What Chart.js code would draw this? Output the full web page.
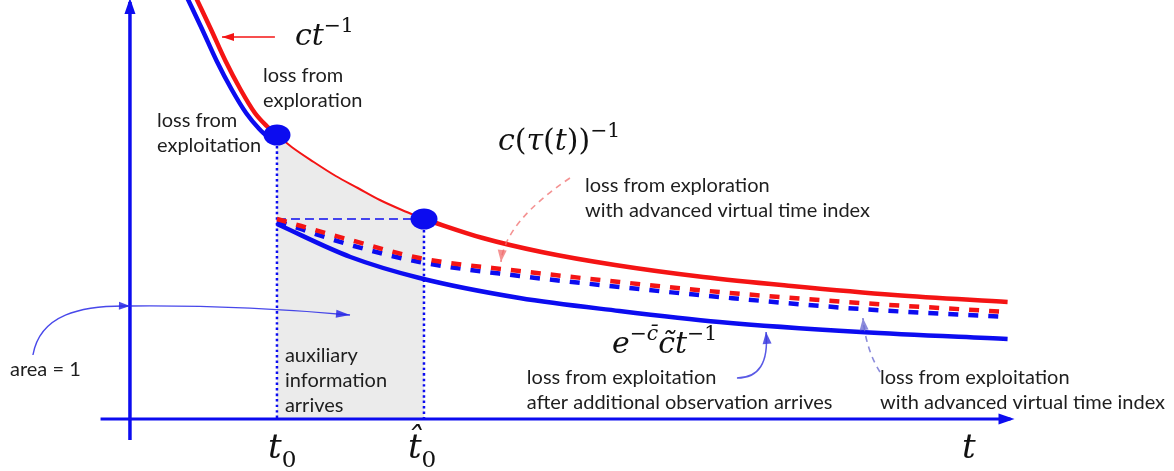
<!DOCTYPE html>
<html>
<head>
<meta charset="utf-8">
<script src="https://cdn.jsdelivr.net/npm/chart.js@4.4.1/dist/chart.umd.min.js"></script>
<style>
  body { margin: 0; background: #fff; }
  canvas { display: block; }
</style>
</head>
<body>
<canvas id="chart" width="1174" height="471"></canvas>
<script>
// time in units of t0 (t0 = 1, t0 hat = 2), loss in arbitrary units
const tExploreEarly = [0.45, 0.55, 0.65, 0.75, 0.85, 0.93, 1.0];
const lossExploreEarly = [4.21, 3.90, 3.58, 3.30, 3.06, 2.93, 2.84];
const tExploitEarly = [0.39, 0.49, 0.59, 0.69, 0.79, 0.88, 0.97];
const lossExploitEarly = [4.21, 3.90, 3.58, 3.30, 3.06, 2.90, 2.78];

const tExploreGap = [1.0, 1.1, 1.25, 1.4, 1.55, 1.7, 1.85, 2.0];
const lossExploreGap = [2.84, 2.72, 2.57, 2.43, 2.31, 2.19, 2.09, 2.0];

const tExploreLate = [2.0, 2.4, 2.8, 3.3, 3.9, 4.5, 5.2, 5.97];
const lossExploreLate = [2.0, 1.81, 1.67, 1.54, 1.42, 1.33, 1.24, 1.17];

const tAfter = [1.0, 1.5, 1.97, 2.65, 3.33, 4.01, 4.97, 5.97];
const lossExploitAfter = [1.95, 1.62, 1.41, 1.21, 1.08, 0.97, 0.87, 0.80];
const lossExploreVirtual = [2.0, 1.79, 1.61, 1.48, 1.37, 1.27, 1.16, 1.07];
const lossExploitVirtual = [1.98, 1.74, 1.57, 1.43, 1.32, 1.22, 1.10, 1.02];

const tMarks = [1, 2];
const lossMarks = [2.84, 2.0];
const tAxisX = [-0.2, 5.99];
const lossAxisY = [-0.21, 4.17];

const RED = "#f41414";
const BLUE = "#0c0cf0";

function pts(xs, ys) {
  return xs.map((x, i) => ({ x: x, y: ys[i] }));
}

function curve(data, color, width, dash, extra) {
  return Object.assign({
    data: data,
    showLine: true,
    borderColor: color,
    borderWidth: width,
    borderDash: dash || [],
    pointRadius: 0,
    cubicInterpolationMode: "monotone",
    fill: false
  }, extra || {});
}

// ellipse shaped marker for the two points
const dot = document.createElement("canvas");
dot.width = 28;
dot.height = 22;
const dctx = dot.getContext("2d");
dctx.fillStyle = BLUE;
dctx.beginPath();
dctx.ellipse(14, 11, 13.5, 10.5, 0, 0, Math.PI * 2);
dctx.fill();

const datasets = [
  {
    data: pts(tMarks, lossMarks),
    pointStyle: dot,
    pointRadius: 12,
    showLine: false
  },
  curve(pts(tExploreEarly, lossExploreEarly), RED, 4.5),
  curve(pts(tExploitEarly, lossExploitEarly), BLUE, 4.5),
  curve(pts(tExploreGap, lossExploreGap), RED, 2),
  curve(pts(tExploreLate, lossExploreLate), RED, 4.5),
  curve(pts(tAfter, lossExploitAfter), BLUE, 4.5),
  curve(pts(tAfter, lossExploreVirtual), RED, 4.5, [10, 10]),
  curve(pts(tAfter, lossExploitVirtual), BLUE, 4.5, [10, 10]),
  // horizontal level of the advanced virtual time
  curve(pts(tMarks, [lossMarks[1], lossMarks[1]]), BLUE, 1.5, [9, 5]),
  // dotted verticals at t0 and t0 hat
  curve(pts([tMarks[0], tMarks[0]], [lossMarks[0], 0]), BLUE, 2.5, [2.5, 3]),
  curve(pts([tMarks[1], tMarks[1]], [lossMarks[1], 0]), BLUE, 2.5, [2.5, 3]),
  // axes
  curve(pts(tAxisX, [0, 0]), BLUE, 3),
  curve(pts([0, 0], lossAxisY), BLUE, 3.5),
  // shaded area between t0 and t0 hat
  curve(pts(tExploreGap, lossExploreGap), "rgba(0,0,0,0)", 0, [], {
    fill: "origin",
    backgroundColor: "#ebebeb"
  })
];

const TEXT_FONT = '20px "Lato"';
const MATH = '"DejaVu Serif"';

function head(ctx, x, y, ang, len, wid, color) {
  ctx.save();
  ctx.translate(x, y);
  ctx.rotate(ang);
  ctx.fillStyle = color;
  ctx.beginPath();
  ctx.moveTo(0, 0);
  ctx.lineTo(-len, -wid / 2);
  ctx.lineTo(-len, wid / 2);
  ctx.closePath();
  ctx.fill();
  ctx.restore();
}

const annotations = {
  id: "annotations",
  afterDatasetsDraw(chart) {
    const ctx = chart.ctx;
    const X = (t) => chart.scales.x.getPixelForValue(t);
    const Y = (v) => chart.scales.y.getPixelForValue(v);

    // axis arrow heads
    head(ctx, X(tAxisX[1]) + 4, Y(0), 0, 16, 11, BLUE);
    head(ctx, X(0), Y(lossAxisY[1]) - 4, -Math.PI / 2, 16, 11, BLUE);

    function text(lines, t, v) {
      ctx.save();
      ctx.font = TEXT_FONT;
      ctx.fillStyle = "#1e1e1e";
      ctx.textBaseline = "alphabetic";
      lines.forEach((s, i) => ctx.fillText(s, X(t), Y(v) + i * 25));
      ctx.restore();
    }

    function math(parts, t, v, size) {
      ctx.save();
      ctx.fillStyle = "#111";
      ctx.textBaseline = "alphabetic";
      let x = X(t);
      const y = Y(v);
      parts.forEach((p) => {
        const sz = p.sup || p.sub ? size * 0.68 : size;
        ctx.font = (p.up ? "" : "italic ") + sz + "px " + MATH;
        const dy = p.sup ? -size * 0.45 : p.sub ? size * 0.25 : 0;
        ctx.fillText(p.s, x, y + dy);
        x += ctx.measureText(p.s).width + (p.gap || 0);
      });
      ctx.restore();
    }

    function arrow(path, color, width, dash, hl, hw) {
      const p = path.map((q) => [X(q[0]), Y(q[1])]);
      ctx.save();
      ctx.strokeStyle = color;
      ctx.lineWidth = width;
      ctx.setLineDash(dash || []);
      ctx.beginPath();
      ctx.moveTo(p[0][0], p[0][1]);
      if (p.length === 2) ctx.lineTo(p[1][0], p[1][1]);
      else if (p.length === 3) ctx.quadraticCurveTo(p[1][0], p[1][1], p[2][0], p[2][1]);
      else ctx.bezierCurveTo(p[1][0], p[1][1], p[2][0], p[2][1], p[3][0], p[3][1]);
      ctx.stroke();
      ctx.restore();
      const a = p[p.length - 2], b = p[p.length - 1];
      head(ctx, b[0], b[1], Math.atan2(b[1] - a[1], b[0] - a[0]), hl || 11, hw || 8, color);
    }

    // pointers
    arrow([[0.986, 3.82], [0.626, 3.82]], RED, 1.3, [], 12, 8);
    arrow([[2.993, 2.41], [2.551, 1.97], [2.524, 1.57]], "rgba(240,110,110,0.75)", 1.6, [6, 5], 12, 9);
    arrow([[5.102, 0.47], [5.007, 0.69], [4.986, 1.01]], "rgba(110,110,210,0.8)", 1.6, [6, 5], 12, 9);
    arrow([[4.129, 0.41], [4.354, 0.41], [4.327, 0.87]], "rgba(60,60,225,0.85)", 1.5, [], 12, 9);
    arrow([[-0.66, 0.64], [-0.612, 1.04], [-0.34, 1.14], [0, 1.13]], "rgba(40,40,230,0.85)", 1.4, []);
    arrow([[0, 1.13], [0.748, 1.14], [1.497, 1.04]], "rgba(40,40,230,0.85)", 1.4, [], 14, 8);

    // labels
    text(["loss from", "exploration"], 0.905, 3.37);
    text(["loss from", "exploitation"], 0.184, 2.92);
    text(["loss from exploration", "with advanced virtual time index"], 3.095, 2.27);
    text(["auxiliary", "information", "arrives"], 1.054, 0.57);
    text(["area = 1"], -0.816, 0.43);
    text(["loss from exploitation", "after additional observation arrives"], 2.70, 0.35);
    text(["loss from exploitation", "with advanced virtual time index"], 5.102, 0.35);

    math([{ s: "c" }, { s: "t" }, { s: "\u22121", sup: true, up: true }], 1.122, 3.74, 30);
    math([{ s: "c" }, { s: "(", up: true }, { s: "\u03c4" }, { s: "(", up: true }, { s: "t" },
          { s: "))", up: true }, { s: "\u22121", sup: true, up: true }], 2.503, 2.69, 30);
    math([{ s: "e" }, { s: "\u2212", sup: true, up: true }, { s: "c\u0304", sup: true },
          { s: "c\u0303" }, { s: "t" }, { s: "\u22121", sup: true, up: true }], 3.279, 0.66, 30);
    math([{ s: "t" }, { s: "0", sub: true, up: true }], 0.939, -0.39, 34);
    math([{ s: "t\u0302" }, { s: "0", sub: true, up: true }], 1.891, -0.39, 34);
    math([{ s: "t" }], 5.66, -0.39, 34);
  }
};

new Chart(document.getElementById("chart"), {
  type: "scatter",
  data: { datasets: datasets },
  options: {
    responsive: false,
    animation: false,
    devicePixelRatio: 1,
    layout: { padding: 0, autoPadding: false },
    scales: {
      x: { type: "linear", min: -0.884, max: 7.102, display: false },
      y: { type: "linear", min: -0.52, max: 4.19, display: false }
    },
    plugins: {
      legend: { display: false },
      tooltip: { enabled: false }
    }
  },
  plugins: [annotations]
});
</script>
</body>
</html>
